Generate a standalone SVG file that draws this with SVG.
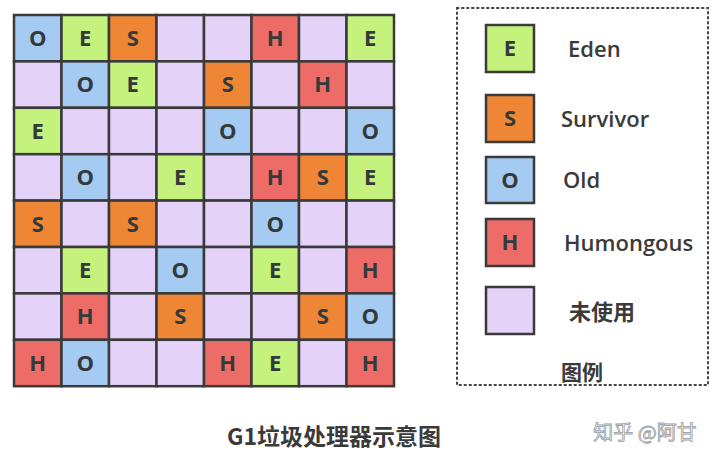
<svg xmlns="http://www.w3.org/2000/svg" width="720" height="465" viewBox="0 0 720 465">
<style>
.c{stroke:#3a3a3a;stroke-width:2.5}
.E{fill:#c4f27c}.S{fill:#ee8636}.O{fill:#a6cbf3}.H{fill:#ee6c67}.U{fill:#e4d2f8}
.t{font-family:"Open Sans","Noto Sans",sans-serif;font-weight:700;font-size:22px;fill:#333a3a;text-anchor:middle}
.l{font-family:"Open Sans","Noto Sans","Noto Sans CJK SC",sans-serif;font-weight:600;font-size:22px;fill:#3a3a3a}
.cjk{font-family:"Noto Sans CJK SC",sans-serif;font-weight:700;fill:#3a3a3a}
</style>
<rect width="720" height="465" fill="#ffffff"/>
<g id="grid">
<g id="r0">
<rect class="c O" x="14" y="15" width="47.5" height="46.4"/><text class="t" x="37.75" y="46">O</text>
<rect class="c E" x="61.5" y="15" width="47.5" height="46.4"/><text class="t" x="85.25" y="46">E</text>
<rect class="c S" x="109" y="15" width="47.5" height="46.4"/><text class="t" x="132.75" y="46">S</text>
<rect class="c U" x="156.5" y="15" width="47.5" height="46.4"/>
<rect class="c U" x="204" y="15" width="47.5" height="46.4"/>
<rect class="c H" x="251.5" y="15" width="47.5" height="46.4"/><text class="t" x="275.25" y="46">H</text>
<rect class="c U" x="299" y="15" width="47.5" height="46.4"/>
<rect class="c E" x="346.5" y="15" width="47.5" height="46.4"/><text class="t" x="370.25" y="46">E</text>
</g>
<g id="r1">
<rect class="c U" x="14" y="61.4" width="47.5" height="46.4"/>
<rect class="c O" x="61.5" y="61.4" width="47.5" height="46.4"/><text class="t" x="85.25" y="92.4">O</text>
<rect class="c E" x="109" y="61.4" width="47.5" height="46.4"/><text class="t" x="132.75" y="92.4">E</text>
<rect class="c U" x="156.5" y="61.4" width="47.5" height="46.4"/>
<rect class="c S" x="204" y="61.4" width="47.5" height="46.4"/><text class="t" x="227.75" y="92.4">S</text>
<rect class="c U" x="251.5" y="61.4" width="47.5" height="46.4"/>
<rect class="c H" x="299" y="61.4" width="47.5" height="46.4"/><text class="t" x="322.75" y="92.4">H</text>
<rect class="c U" x="346.5" y="61.4" width="47.5" height="46.4"/>
</g>
<g id="r2">
<rect class="c E" x="14" y="107.8" width="47.5" height="46.4"/><text class="t" x="37.75" y="138.8">E</text>
<rect class="c U" x="61.5" y="107.8" width="47.5" height="46.4"/>
<rect class="c U" x="109" y="107.8" width="47.5" height="46.4"/>
<rect class="c U" x="156.5" y="107.8" width="47.5" height="46.4"/>
<rect class="c O" x="204" y="107.8" width="47.5" height="46.4"/><text class="t" x="227.75" y="138.8">O</text>
<rect class="c U" x="251.5" y="107.8" width="47.5" height="46.4"/>
<rect class="c U" x="299" y="107.8" width="47.5" height="46.4"/>
<rect class="c O" x="346.5" y="107.8" width="47.5" height="46.4"/><text class="t" x="370.25" y="138.8">O</text>
</g>
<g id="r3">
<rect class="c U" x="14" y="154.2" width="47.5" height="46.4"/>
<rect class="c O" x="61.5" y="154.2" width="47.5" height="46.4"/><text class="t" x="85.25" y="185.2">O</text>
<rect class="c U" x="109" y="154.2" width="47.5" height="46.4"/>
<rect class="c E" x="156.5" y="154.2" width="47.5" height="46.4"/><text class="t" x="180.25" y="185.2">E</text>
<rect class="c U" x="204" y="154.2" width="47.5" height="46.4"/>
<rect class="c H" x="251.5" y="154.2" width="47.5" height="46.4"/><text class="t" x="275.25" y="185.2">H</text>
<rect class="c S" x="299" y="154.2" width="47.5" height="46.4"/><text class="t" x="322.75" y="185.2">S</text>
<rect class="c E" x="346.5" y="154.2" width="47.5" height="46.4"/><text class="t" x="370.25" y="185.2">E</text>
</g>
<g id="r4">
<rect class="c S" x="14" y="200.6" width="47.5" height="46.4"/><text class="t" x="37.75" y="231.6">S</text>
<rect class="c U" x="61.5" y="200.6" width="47.5" height="46.4"/>
<rect class="c S" x="109" y="200.6" width="47.5" height="46.4"/><text class="t" x="132.75" y="231.6">S</text>
<rect class="c U" x="156.5" y="200.6" width="47.5" height="46.4"/>
<rect class="c U" x="204" y="200.6" width="47.5" height="46.4"/>
<rect class="c O" x="251.5" y="200.6" width="47.5" height="46.4"/><text class="t" x="275.25" y="231.6">O</text>
<rect class="c U" x="299" y="200.6" width="47.5" height="46.4"/>
<rect class="c U" x="346.5" y="200.6" width="47.5" height="46.4"/>
</g>
<g id="r5">
<rect class="c U" x="14" y="247" width="47.5" height="46.4"/>
<rect class="c E" x="61.5" y="247" width="47.5" height="46.4"/><text class="t" x="85.25" y="278">E</text>
<rect class="c U" x="109" y="247" width="47.5" height="46.4"/>
<rect class="c O" x="156.5" y="247" width="47.5" height="46.4"/><text class="t" x="180.25" y="278">O</text>
<rect class="c U" x="204" y="247" width="47.5" height="46.4"/>
<rect class="c E" x="251.5" y="247" width="47.5" height="46.4"/><text class="t" x="275.25" y="278">E</text>
<rect class="c U" x="299" y="247" width="47.5" height="46.4"/>
<rect class="c H" x="346.5" y="247" width="47.5" height="46.4"/><text class="t" x="370.25" y="278">H</text>
</g>
<g id="r6">
<rect class="c U" x="14" y="293.4" width="47.5" height="46.4"/>
<rect class="c H" x="61.5" y="293.4" width="47.5" height="46.4"/><text class="t" x="85.25" y="324.4">H</text>
<rect class="c U" x="109" y="293.4" width="47.5" height="46.4"/>
<rect class="c S" x="156.5" y="293.4" width="47.5" height="46.4"/><text class="t" x="180.25" y="324.4">S</text>
<rect class="c U" x="204" y="293.4" width="47.5" height="46.4"/>
<rect class="c U" x="251.5" y="293.4" width="47.5" height="46.4"/>
<rect class="c S" x="299" y="293.4" width="47.5" height="46.4"/><text class="t" x="322.75" y="324.4">S</text>
<rect class="c O" x="346.5" y="293.4" width="47.5" height="46.4"/><text class="t" x="370.25" y="324.4">O</text>
</g>
<g id="r7">
<rect class="c H" x="14" y="339.8" width="47.5" height="46.4"/><text class="t" x="37.75" y="370.8">H</text>
<rect class="c O" x="61.5" y="339.8" width="47.5" height="46.4"/><text class="t" x="85.25" y="370.8">O</text>
<rect class="c U" x="109" y="339.8" width="47.5" height="46.4"/>
<rect class="c U" x="156.5" y="339.8" width="47.5" height="46.4"/>
<rect class="c H" x="204" y="339.8" width="47.5" height="46.4"/><text class="t" x="227.75" y="370.8">H</text>
<rect class="c E" x="251.5" y="339.8" width="47.5" height="46.4"/><text class="t" x="275.25" y="370.8">E</text>
<rect class="c U" x="299" y="339.8" width="47.5" height="46.4"/>
<rect class="c H" x="346.5" y="339.8" width="47.5" height="46.4"/><text class="t" x="370.25" y="370.8">H</text>
</g>
</g>
<g id="legend">
<rect x="457" y="8" width="251" height="377" fill="none" stroke="#444" stroke-width="2" stroke-dasharray="1.5 3.5" stroke-linecap="round"/>
<g id="leg-E"><rect class="c E" x="486" y="25" width="48" height="47"/><text class="t" x="510" y="56">E</text><text class="l" x="568" y="57">Eden</text></g>
<g id="leg-S"><rect class="c S" x="486" y="95" width="48" height="47"/><text class="t" x="510" y="126">S</text><text class="l" x="561" y="127">Survivor</text></g>
<g id="leg-O"><rect class="c O" x="486" y="157" width="48" height="46"/><text class="t" x="510" y="188">O</text><text class="l" x="563" y="188">Old</text></g>
<g id="leg-H"><rect class="c H" x="486" y="219" width="48" height="47"/><text class="t" x="510" y="250">H</text><text class="l" x="564" y="251">Humongous</text></g>
<g id="leg-U"><rect class="c U" x="486" y="287" width="48" height="47"/><text class="cjk" x="569" y="320" font-size="22">未使用</text></g>
<text class="cjk" x="561" y="380" font-size="21">图例</text>
</g>
<text class="cjk" x="334" y="445" font-size="23" text-anchor="middle">G1垃圾处理器示意图</text>
<text x="645" y="440" font-family="Noto Sans CJK SC,sans-serif" font-size="20" fill="#ffffff" stroke="#9a9a9a" stroke-width="0.8" text-anchor="middle">知乎 @阿甘</text>
</svg>
